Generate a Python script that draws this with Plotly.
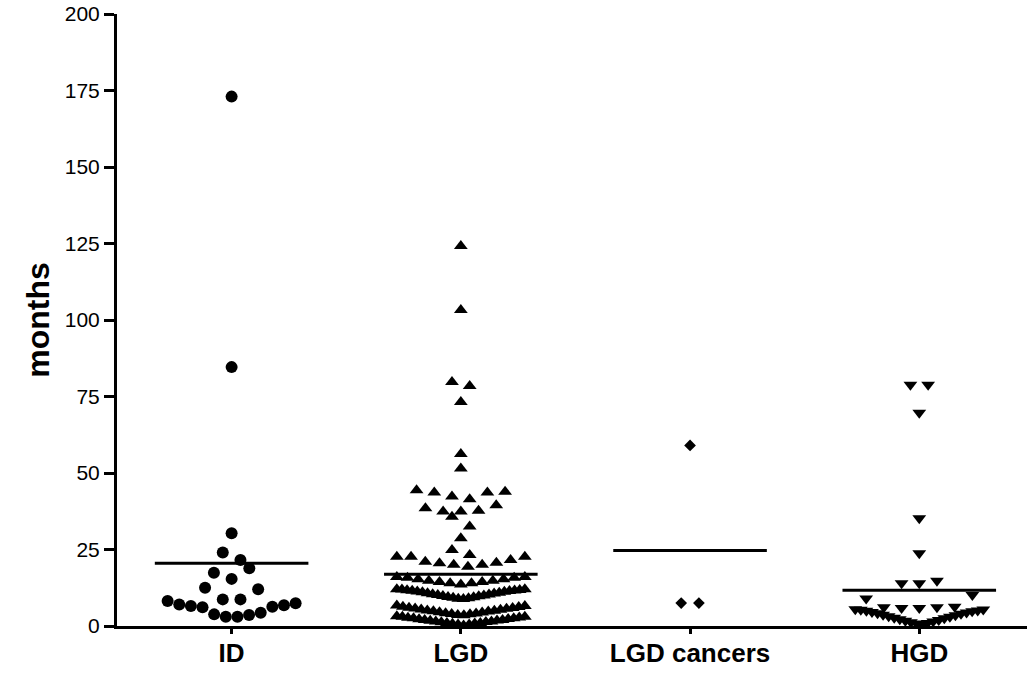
import plotly.graph_objects as go

# ---------------- data (months) ----------------
categories = ["ID", "LGD", "LGD cancers", "HGD"]

id_months = [173.0, 84.6, 30.3, 24.0, 21.6, 18.9, 17.4, 15.4, 12.5, 12.0, 8.7, 8.7,
             8.2, 7.4, 7.0, 6.8, 6.5, 6.3, 6.1, 4.3, 3.8, 3.6, 3.0, 3.0]

lgd_months = [124.2, 103.3, 79.7, 78.4, 73.2, 56.2, 51.5,
              44.4, 43.6, 42.3, 43.6, 43.9, 41.4, 39.5,
              37.7, 37.4, 35.7, 37.4, 38.5,
              32.5, 28.7, 24.8, 23.2,
              22.6, 22.6, 21.0, 20.5, 20.0, 19.4, 20.0, 20.7, 21.6, 22.6,
              16.0, 15.8, 15.3, 14.8, 14.4, 14.0, 13.6, 14.0, 14.4, 14.8, 15.3, 15.8, 16.0,
              8.8, 8.9, 9.1, 9.2, 9.4, 9.5, 9.7, 9.8, 10.0, 10.1, 10.3, 10.4, 10.6,
              10.7, 10.9, 11.0, 11.2, 11.3, 11.4, 11.5, 11.6, 11.7, 11.8, 11.9, 12.0, 12.0,
              3.5, 3.6, 3.8, 3.9, 4.1, 4.2, 4.4, 4.5, 4.7, 4.8, 5.0, 5.1, 5.3, 5.4,
              5.6, 5.7, 5.9, 6.0, 6.2, 6.3, 6.5, 6.7,
              0.2, 0.5, 0.5, 0.7, 0.8, 1.0, 1.0, 1.2, 1.3, 1.5, 1.5, 1.7, 1.8, 2.0,
              2.0, 2.2, 2.3, 2.5, 2.5, 2.7, 2.8, 3.0, 3.0, 3.2]

lgd_cancer_months = [59.0, 7.5, 7.5]

hgd_months = [78.8, 78.8, 69.7, 35.2, 23.8, 14.8, 14.0, 14.0, 10.1, 9.0,
              6.3, 6.1, 6.1, 5.9, 5.9,
              5.5, 5.4, 5.3, 5.1, 5.0, 4.8, 4.6, 4.4, 4.2, 4.0, 3.7, 3.5,
              3.2, 3.0, 2.7, 2.5, 2.2, 2.0, 1.7, 1.5, 1.2, 1.0, 0.8, 0.3]

y_ticks = [0, 25, 50, 75, 100, 125, 150, 175, 200]

# ---------------- layout constants ----------------
FIG_W, FIG_H = 1027, 673
M_L, M_R, M_T, M_B = 117, 0, 14, 47
X_RANGE = [-0.5, 3.47]
Y_RANGE = [0, 200]
FONT = "Liberation Sans, Arial, sans-serif"

px_per_cat = (FIG_W - M_L - M_R) / (X_RANGE[1] - X_RANGE[0])
px_per_unit = (FIG_H - M_T - M_B) / (Y_RANGE[1] - Y_RANGE[0])

STEP_PX = 17.7      # default horizontal spacing inside a row
HALF_W_PX = 64.0    # max half-width of a row of points
MEAN_HALF = 0.335   # half-length of mean bar (category units)


def swarm_offsets(values, bin_px):
    """Prism-like scatter-dot layout: group sorted values into rows, spread each row."""
    order = sorted(range(len(values)), key=lambda i: values[i])
    rows, cur, start = [], [], None
    for i in order:
        v = values[i]
        if cur and (v - start) * px_per_unit > bin_px:
            rows.append(cur)
            cur = []
        if not cur:
            start = v
        cur.append(i)
    if cur:
        rows.append(cur)
    offs = [0.0] * len(values)
    for row in rows:
        n = len(row)
        s = STEP_PX if n < 2 else min(STEP_PX, 2 * HALF_W_PX / (n - 1))
        if n % 2:
            slots = [0] + [sg * k for k in range(1, n // 2 + 1) for sg in (-1, 1)]
        else:
            slots = [sg * (k - 0.5) for k in range(1, n // 2 + 1) for sg in (1, -1)]
        for idx, slot in zip(row, slots):
            offs[idx] = slot * s / px_per_cat
    return offs


groups = [
    (id_months, "circle", 12, 17),
    (lgd_months, "triangle-up", 12, 10),
    (lgd_cancer_months, "diamond", 9, 17),
    (hgd_months, "triangle-down", 12, 17),
]

fig = go.Figure()
for gi, (vals, sym, size, bin_px) in enumerate(groups):
    mean = sum(vals) / len(vals)
    fig.add_trace(go.Scatter(
        x=[gi - MEAN_HALF, gi + MEAN_HALF], y=[mean, mean], mode="lines",
        line=dict(color="black", width=3), hoverinfo="skip", showlegend=False))
    offs = swarm_offsets(vals, bin_px)
    fig.add_trace(go.Scatter(
        x=[gi + o for o in offs], y=vals, mode="markers",
        marker=dict(symbol=sym, size=size, color="black", line=dict(width=0)),
        name=categories[gi], showlegend=False))

fig.update_layout(
    width=FIG_W, height=FIG_H,
    margin=dict(l=M_L, r=M_R, t=M_T, b=M_B, autoexpand=False),
    paper_bgcolor="white", plot_bgcolor="white",
    font=dict(family=FONT, color="black"),
    showlegend=False,
)
fig.update_xaxes(
    range=X_RANGE, tickmode="array", tickvals=list(range(len(categories))),
    ticktext=categories, showline=True, linewidth=3, linecolor="black",
    ticks="outside", ticklen=5, tickwidth=2.5, tickcolor="black",
    tickfont=dict(family=FONT, size=26, color="black", weight="bold"),
    ticklabelstandoff=-3,
    showgrid=False, zeroline=False, automargin=False,
)
fig.update_yaxes(
    range=Y_RANGE, tickmode="array", tickvals=y_ticks,
    showline=True, linewidth=3, linecolor="black",
    ticks="outside", ticklen=10, tickwidth=2.5, tickcolor="black",
    tickfont=dict(family=FONT, size=21, color="black"),
    title=dict(text="months", font=dict(family=FONT, size=32, color="black", weight="bold"),
               standoff=6),
    showgrid=False, zeroline=False, automargin=False,
)

fig.write_html("out.html", config={"displayModeBar": False},
               post_script="document.body.style.margin='0';document.body.style.padding='0';")
